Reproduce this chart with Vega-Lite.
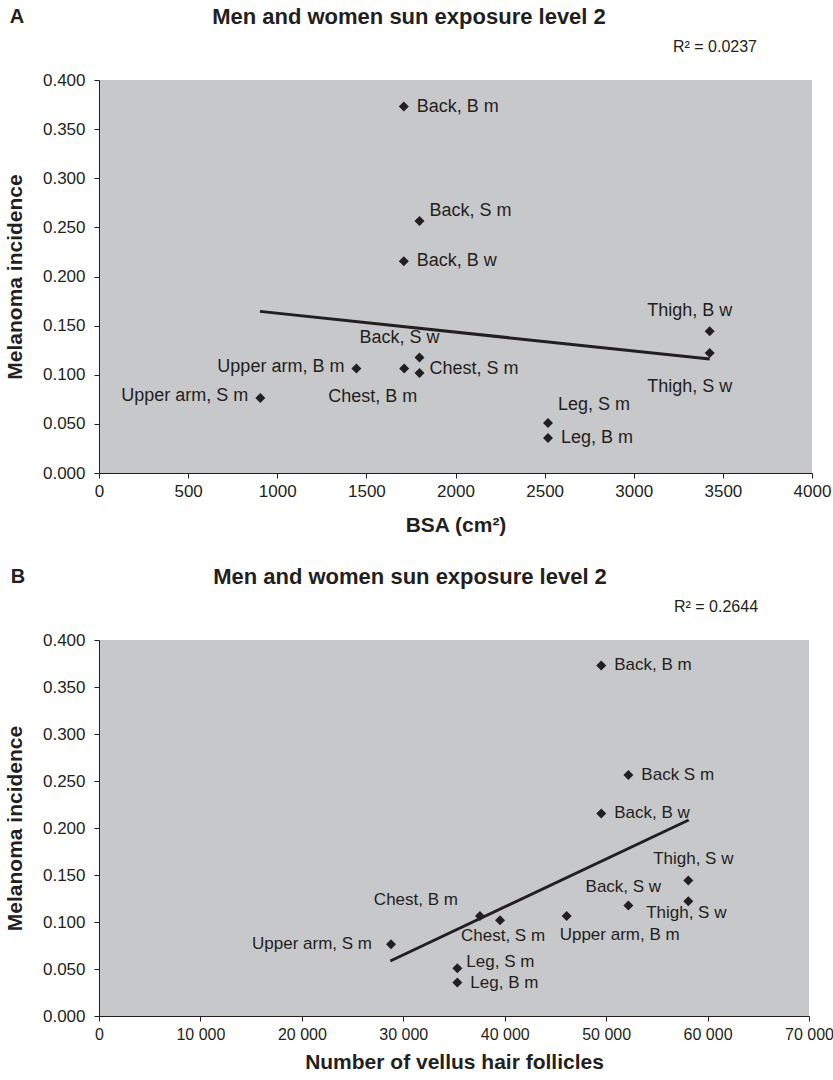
{
  "$schema": "https://vega.github.io/schema/vega-lite/v6.json",
  "background": "white",
  "padding": {"left": 4, "top": 6, "right": 0, "bottom": 0},
  "spacing": 31,
  "config": {
    "font": "Liberation Sans",
    "view": {"fill": "#c7c8ca", "stroke": null},
    "axis": {
      "grid": false,
      "domainColor": "#231f20",
      "tickColor": "#231f20",
      "labelColor": "#231f20",
      "titleColor": "#231f20",
      "labelFont": "Liberation Sans",
      "titleFont": "Liberation Sans",
      "titleFontWeight": "bold",
      "tickSize": 5,
      "labelFlush": false,
      "labelOverlap": false
    },
    "text": {"font": "Liberation Sans", "color": "#231f20", "baseline": "middle"}
  },
  "datasets": {
    "ptsA": [
      {"key": "Back, B m", "label": "Back, B m", "x": 1710, "y": 0.373},
      {"key": "Back, S m", "label": "Back, S m", "x": 1798, "y": 0.2565},
      {"key": "Back, B w", "label": "Back, B w", "x": 1710, "y": 0.2155},
      {"key": "Back, S w", "label": "Back, S w", "x": 1798, "y": 0.1175},
      {"key": "Chest, B m", "label": "Chest, B m", "x": 1712, "y": 0.1063},
      {"key": "Chest, S m", "label": "Chest, S m", "x": 1798, "y": 0.1018},
      {"key": "Upper arm, B m", "label": "Upper arm, B m", "x": 1444, "y": 0.1063},
      {"key": "Upper arm, S m", "label": "Upper arm, S m", "x": 905, "y": 0.0763},
      {"key": "Leg, S m", "label": "Leg, S m", "x": 2519, "y": 0.0509},
      {"key": "Leg, B m", "label": "Leg, B m", "x": 2519, "y": 0.0356},
      {"key": "Thigh, B w", "label": "Thigh, B w", "x": 3426, "y": 0.1442},
      {"key": "Thigh, S w", "label": "Thigh, S w", "x": 3426, "y": 0.1221}
    ],
    "ptsB": [
      {"key": "Back, B m", "label": "Back, B m", "x": 49520, "y": 0.373},
      {"key": "Back, S m", "label": "Back S m", "x": 52190, "y": 0.2565},
      {"key": "Back, B w", "label": "Back, B w", "x": 49520, "y": 0.2155},
      {"key": "Back, S w", "label": "Back, S w", "x": 52190, "y": 0.1175},
      {"key": "Chest, B m", "label": "Chest, B m", "x": 37560, "y": 0.1063},
      {"key": "Chest, S m", "label": "Chest, S m", "x": 39540, "y": 0.1018},
      {"key": "Upper arm, B m", "label": "Upper arm, B m", "x": 46110, "y": 0.1063},
      {"key": "Upper arm, S m", "label": "Upper arm, S m", "x": 28790, "y": 0.0763},
      {"key": "Leg, S m", "label": "Leg, S m", "x": 35330, "y": 0.0509},
      {"key": "Leg, B m", "label": "Leg, B m", "x": 35330, "y": 0.0356},
      {"key": "Thigh, B w", "label": "Thigh, S w", "x": 58100, "y": 0.1442},
      {"key": "Thigh, S w", "label": "Thigh, S w", "x": 58100, "y": 0.1221}
    ],
    "trendA": [
      {"x": 903, "y": 0.1645},
      {"x": 3426, "y": 0.116}
    ],
    "trendB": [
      {"x": 28720, "y": 0.0585},
      {"x": 58140, "y": 0.2085}
    ],
    "annA": [
      {"kind": "panel", "text": "A", "x": -460, "y": 0.464},
      {"kind": "title", "text": "Men and women sun exposure level 2", "x": 1739, "y": 0.464},
      {"kind": "r2", "text": "R² = 0.0237", "x": 3220, "y": 0.4336}
    ],
    "annB": [
      {"kind": "panel", "text": "B", "x": -7986, "y": 0.467},
      {"kind": "title", "text": "Men and women sun exposure level 2", "x": 30662, "y": 0.467},
      {"kind": "r2", "text": "R² = 0.2644", "x": 56690, "y": 0.435}
    ]
  },
  "vconcat": [
    {
      "width": 713,
      "height": 393,
      "data": {"name": "ptsA"},
      "encoding": {
        "x": {
          "field": "x", "type": "quantitative",
          "scale": {"domain": [0, 4000], "nice": false, "zero": false},
          "axis": {"values": [0, 500, 1000, 1500, 2000, 2500, 3000, 3500, 4000], "format": "d", "labelFontSize": 17, "labelPadding": 5, "titleFontSize": 21, "titlePadding": 15},
          "title": "BSA (cm²)"
        },
        "y": {
          "field": "y", "type": "quantitative",
          "scale": {"domain": [0, 0.4], "nice": false, "zero": false},
          "axis": {"values": [0, 0.05, 0.1, 0.15, 0.2, 0.25, 0.3, 0.35, 0.4], "format": ".3f", "labelFontSize": 17, "labelPadding": 9, "titleFontSize": 21, "titlePadding": 17},
          "title": "Melanoma incidence"
        }
      },
      "layer": [
        {"data": {"name": "trendA"}, "mark": {"type": "line", "color": "#231f20", "strokeWidth": 3}},
        {"mark": {"type": "point", "shape": "diamond", "filled": true, "size": 100, "color": "#231f20", "opacity": 1}},
        {"transform": [{"filter": {"field": "key", "oneOf": ["Back, B m", "Back, B w", "Leg, B m"]}}], "mark": {"type": "text", "align": "left", "dx": 13, "dy": 0, "fontSize": 18}, "encoding": {"text": {"field": "label"}}},
        {"transform": [{"filter": {"field": "key", "oneOf": ["Chest, S m"]}}], "mark": {"type": "text", "align": "left", "dx": 10, "dy": -4, "fontSize": 18}, "encoding": {"text": {"field": "label"}}},
        {"transform": [{"filter": {"field": "key", "oneOf": ["Back, S m"]}}], "mark": {"type": "text", "align": "left", "dx": 10, "dy": -10, "fontSize": 18}, "encoding": {"text": {"field": "label"}}},
        {"transform": [{"filter": {"field": "key", "oneOf": ["Leg, S m"]}}], "mark": {"type": "text", "align": "left", "dx": 10, "dy": -18, "fontSize": 18}, "encoding": {"text": {"field": "label"}}},
        {"transform": [{"filter": {"field": "key", "oneOf": ["Upper arm, B m", "Upper arm, S m"]}}], "mark": {"type": "text", "align": "right", "dx": -12, "dy": -2, "fontSize": 18}, "encoding": {"text": {"field": "label"}}},
        {"transform": [{"filter": {"field": "key", "oneOf": ["Back, S w", "Thigh, B w"]}}], "mark": {"type": "text", "align": "center", "dx": -20, "dy": -20, "fontSize": 18}, "encoding": {"text": {"field": "label"}}},
        {"transform": [{"filter": {"field": "key", "oneOf": ["Chest, B m"]}}], "mark": {"type": "text", "align": "right", "dx": 13, "dy": 28, "fontSize": 18}, "encoding": {"text": {"field": "label"}}},
        {"transform": [{"filter": {"field": "key", "oneOf": ["Thigh, S w"]}}], "mark": {"type": "text", "align": "center", "dx": -20, "dy": 34, "fontSize": 18}, "encoding": {"text": {"field": "label"}}},
        {"data": {"name": "annA"}, "transform": [{"filter": "datum.kind === 'panel'"}], "mark": {"type": "text", "fontSize": 20, "fontWeight": "bold", "align": "center"}, "encoding": {"text": {"field": "text"}}},
        {"data": {"name": "annA"}, "transform": [{"filter": "datum.kind === 'title'"}], "mark": {"type": "text", "fontSize": 22, "fontWeight": "bold", "align": "center"}, "encoding": {"text": {"field": "text"}}},
        {"data": {"name": "annA"}, "transform": [{"filter": "datum.kind === 'r2'"}], "mark": {"type": "text", "fontSize": 16, "align": "left"}, "encoding": {"text": {"field": "text"}}}
      ]
    },
    {
      "width": 710,
      "height": 376,
      "data": {"name": "ptsB"},
      "encoding": {
        "x": {
          "field": "x", "type": "quantitative",
          "scale": {"domain": [0, 70000], "nice": false, "zero": false},
          "axis": {"values": [0, 10000, 20000, 30000, 40000, 50000, 60000, 70000], "labelExpr": "replace(format(datum.value, ','), ',', ' ')", "labelFontSize": 16, "labelPadding": 5, "titleFontSize": 21, "titlePadding": 9},
          "title": "Number of vellus hair follicles"
        },
        "y": {
          "field": "y", "type": "quantitative",
          "scale": {"domain": [0, 0.4], "nice": false, "zero": false},
          "axis": {"values": [0, 0.05, 0.1, 0.15, 0.2, 0.25, 0.3, 0.35, 0.4], "format": ".3f", "labelFontSize": 17, "labelPadding": 9, "titleFontSize": 21, "titlePadding": 17},
          "title": "Melanoma incidence"
        }
      },
      "layer": [
        {"data": {"name": "trendB"}, "mark": {"type": "line", "color": "#231f20", "strokeWidth": 3}},
        {"mark": {"type": "point", "shape": "diamond", "filled": true, "size": 100, "color": "#231f20", "opacity": 1}},
        {"transform": [{"filter": {"field": "key", "oneOf": ["Back, B m", "Back, S m", "Back, B w", "Leg, B m"]}}], "mark": {"type": "text", "align": "left", "dx": 13, "dy": 0, "fontSize": 17}, "encoding": {"text": {"field": "label"}}},
        {"transform": [{"filter": {"field": "key", "oneOf": ["Leg, S m"]}}], "mark": {"type": "text", "align": "left", "dx": 9, "dy": -6, "fontSize": 17}, "encoding": {"text": {"field": "label"}}},
        {"transform": [{"filter": {"field": "key", "oneOf": ["Thigh, B w"]}}], "mark": {"type": "text", "align": "center", "dx": 5, "dy": -21, "fontSize": 17}, "encoding": {"text": {"field": "label"}}},
        {"transform": [{"filter": {"field": "key", "oneOf": ["Back, S w"]}}], "mark": {"type": "text", "align": "center", "dx": -5, "dy": -19, "fontSize": 17}, "encoding": {"text": {"field": "label"}}},
        {"transform": [{"filter": {"field": "key", "oneOf": ["Thigh, S w"]}}], "mark": {"type": "text", "align": "center", "dx": -2, "dy": 12, "fontSize": 17}, "encoding": {"text": {"field": "label"}}},
        {"transform": [{"filter": {"field": "key", "oneOf": ["Chest, S m"]}}], "mark": {"type": "text", "align": "center", "dx": 3, "dy": 16, "fontSize": 17}, "encoding": {"text": {"field": "label"}}},
        {"transform": [{"filter": {"field": "key", "oneOf": ["Upper arm, B m"]}}], "mark": {"type": "text", "align": "left", "dx": -7, "dy": 19, "fontSize": 17}, "encoding": {"text": {"field": "label"}}},
        {"transform": [{"filter": {"field": "key", "oneOf": ["Chest, B m"]}}], "mark": {"type": "text", "align": "right", "dx": -22, "dy": -16, "fontSize": 17}, "encoding": {"text": {"field": "label"}}},
        {"transform": [{"filter": {"field": "key", "oneOf": ["Upper arm, S m"]}}], "mark": {"type": "text", "align": "right", "dx": -19, "dy": 0, "fontSize": 17}, "encoding": {"text": {"field": "label"}}},
        {"data": {"name": "annB"}, "transform": [{"filter": "datum.kind === 'panel'"}], "mark": {"type": "text", "fontSize": 20, "fontWeight": "bold", "align": "center"}, "encoding": {"text": {"field": "text"}}},
        {"data": {"name": "annB"}, "transform": [{"filter": "datum.kind === 'title'"}], "mark": {"type": "text", "fontSize": 22, "fontWeight": "bold", "align": "center"}, "encoding": {"text": {"field": "text"}}},
        {"data": {"name": "annB"}, "transform": [{"filter": "datum.kind === 'r2'"}], "mark": {"type": "text", "fontSize": 16, "align": "left"}, "encoding": {"text": {"field": "text"}}}
      ]
    }
  ]
}
